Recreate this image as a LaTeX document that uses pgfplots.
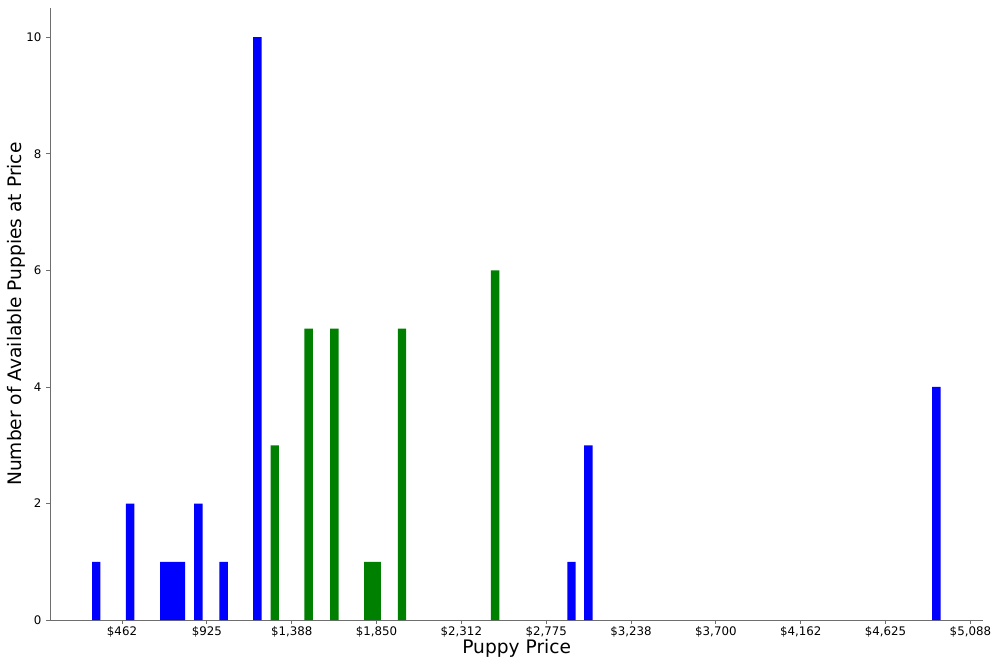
\documentclass[border=0pt]{standalone}
\usepackage{pgfplots}
\pgfplotsset{compat=1.18}
\usepackage{fontspec}
\setmainfont{DejaVu Sans}
\definecolor{mplgreen}{RGB}{0,128,0}
\definecolor{spine}{RGB}{110,110,110}
\begin{document}
\begin{tikzpicture}
    % picture is 1000x666 px at 0.72pt per px; axis box from (50,8) to (983,620) px
    \useasboundingbox (-36pt,-33.12pt) rectangle (683.8pt,446.4pt);
    \begin{axis}[
        scale only axis,
        width=671.8pt,
        height=440.6pt,
        xmin=70, xmax=5158,
        ymin=0, ymax=10.5,
        axis x line*=bottom,
        axis y line*=left,
        axis line style={spine, line width=0.6pt},
        every tick/.style={spine, line width=0.6pt},
        tick align=outside,
        major tick length=2.6pt,
        xtick={462.5,925,1387.5,1850,2312.5,2775,3237.5,3700,4162.5,4625,5087.5},
        xticklabels={{\$462},{\$925},{\$1,388},{\$1,850},{\$2,312},{\$2,775},{\$3,238},{\$3,700},{\$4,162},{\$4,625},{\$5,088}},
        ytick={0,2,4,6,8,10},
        /pgf/number format/assume math mode=true,
        ticklabel style={font=\fontsize{8.5}{10}\selectfont},
        xticklabel style={yshift=1.5pt},
        xlabel={Puppy Price},
        ylabel={Number of Available Puppies at Price},
        every axis x label/.style={at={(axis description cs:0.5,0)}, yshift=-20.5pt, anchor=center, font=\fontsize{13.4}{15}\selectfont},
        every axis y label/.style={at={(axis description cs:0,0.5)}, xshift=-24pt, rotate=90, anchor=center, font=\fontsize{13.4}{15}\selectfont},
        ybar,
        bar width=46,
        bar shift=0pt,
        clip=false,
    ]
    \addplot[fill=blue, draw=none]
        coordinates{
            (322,1) (507,2) (693,1) (738,1) (784,1) (879,2) (1016,1)
            (1200,10) (2913,1) (3005,3) (4902,4)
        };
    \addplot[fill=mplgreen, draw=none]
        coordinates{
            (1295,3) (1480,5) (1620,5) (1805,1) (1851,1) (1989,5) (2497,6)
        };
    \end{axis}
\end{tikzpicture}
\end{document}
